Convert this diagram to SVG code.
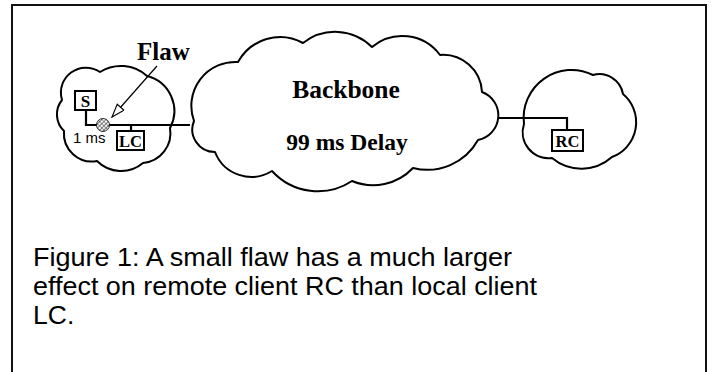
<svg xmlns="http://www.w3.org/2000/svg" width="713" height="372" viewBox="0 0 713 372">
  <style>
    .cloud { fill: #fff; stroke: #000; stroke-width: 2; stroke-linejoin: round; }
    .box { fill: #fff; stroke: #000; stroke-width: 2; }
    .wire { fill: none; stroke: #000; stroke-width: 2.2; }
    .lbl { font-family: "Liberation Serif", "Times New Roman", serif; font-weight: bold; fill: #000; }
    .sans { font-family: "Liberation Sans", Arial, sans-serif; fill: #000; }
  </style>
  <defs>
    <pattern id="hatch" width="3" height="3" patternUnits="userSpaceOnUse" patternTransform="rotate(45)">
      <rect width="3" height="3" fill="#fff"/>
      <line x1="0" y1="0" x2="0" y2="3" stroke="#000" stroke-width="1"/>
      <line x1="0" y1="0" x2="3" y2="0" stroke="#000" stroke-width="0.8"/>
    </pattern>
    <marker id="openHead" markerWidth="16" markerHeight="12" refX="14" refY="5" orient="auto" markerUnits="userSpaceOnUse">
      <path d="M1,0.5 L14,5 L1,9.5 Z" fill="#fff" stroke="#000" stroke-width="1.1"/>
    </marker>
  </defs>

  <!-- outer frame (bottom edge runs off the page) -->
  <path d="M12 380 V5 H706 V380" fill="none" stroke="#111" stroke-width="2"/>

  <!-- clouds -->
  <g id="local-net">
    <path class="cloud" d="M62 100 A25 25 0 0 1 100 72 A39 39 0 0 1 147 76 A36 36 0 0 1 170 128 A30 30 0 0 1 143 163 A34 34 0 0 1 97 161 A28 28 0 0 1 64 131 A23 23 0 0 1 62 100 Z"/>
  </g>
  <g id="backbone">
    <path class="cloud" d="M194 121 A44 44 0 0 1 238 62 A48 48 0 0 1 303 43 A52 52 0 0 1 372 47 A47 47 0 0 1 440 55 A39 39 0 0 1 482 92 A25 25 0 0 1 478 140 A58 58 0 0 1 413 168 A55 55 0 0 1 352 181 A62 62 0 0 1 272 171 A39 39 0 0 1 215 152 A22.5 22.5 0 0 1 194 121 Z"/>
    <text class="lbl" x="346" y="98" font-size="25.5" text-anchor="middle">Backbone</text>
    <text class="lbl" x="347" y="150" font-size="23.5" text-anchor="middle">99 ms Delay</text>
  </g>
  <g id="remote-net">
    <path class="cloud" d="M524 124 A48 48 0 0 1 593 75 A24 24 0 0 1 623 94 A37 37 0 0 1 612 157 A46 46 0 0 1 552 158 A26 26 0 0 1 524 124 Z"/>
  </g>

  <!-- connectors -->
  <g id="connectors">
    <path class="wire" d="M86 110 V125 H190"/>
    <path class="wire" d="M131 125 V131"/>
    <path class="wire" d="M498 118 H567 V130"/>
    <line x1="157" y1="66" x2="112" y2="117" stroke="#000" stroke-width="1.2" marker-end="url(#openHead)"/>
  </g>

  <!-- hosts -->
  <g id="server-S">
    <rect class="box" x="75" y="91" width="21" height="19"/>
    <text class="lbl" x="85.5" y="106.5" font-size="17" text-anchor="middle">S</text>
  </g>
  <g id="client-LC">
    <rect class="box" x="117" y="131" width="27" height="19"/>
    <text class="lbl" x="130.5" y="146.5" font-size="16.5" text-anchor="middle">LC</text>
  </g>
  <g id="client-RC">
    <rect class="box" x="552" y="130" width="31" height="21"/>
    <text class="lbl" x="567.5" y="146.5" font-size="16.5" text-anchor="middle">RC</text>
  </g>

  <!-- the flaw on the local link -->
  <g id="flaw">
    <circle cx="103" cy="125" r="6.5" fill="url(#hatch)" stroke="#000" stroke-width="0.8"/>
    <text class="lbl" x="137" y="60" font-size="25">Flaw</text>
  </g>

  <text class="sans" x="73" y="143" font-size="15">1 ms</text>

  <!-- caption -->
  <g id="caption" class="sans" font-size="26.5">
    <text x="33" y="266" textLength="479" lengthAdjust="spacingAndGlyphs">Figure 1: A small flaw has a much larger</text>
    <text x="33" y="295" textLength="504" lengthAdjust="spacingAndGlyphs">effect on remote client RC than local client</text>
    <text x="33" y="324">LC.</text>
  </g>
</svg>
